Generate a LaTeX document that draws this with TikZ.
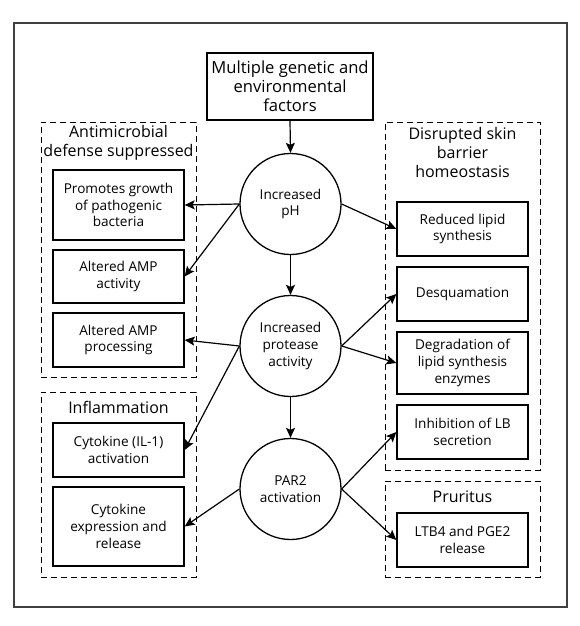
\documentclass[tikz,border=0pt]{standalone}
\usepackage{fontspec}
\setmainfont{Open Sans}
\usetikzlibrary{arrows.meta}
\begin{document}
\begin{tikzpicture}[x=1pt,y=-1pt,
  box/.style={draw, line width=1.3pt, inner sep=0pt, align=center, font=\fontsize{13.6}{16.7}\selectfont},
  lbox/.style={box, minimum width=131pt},
  circ/.style={draw, circle, line width=1.3pt, minimum size=101pt, inner sep=0pt, align=center, font=\fontsize{13.6}{16.7}\selectfont},
  grp/.style={draw, line width=1pt, dash pattern=on 6pt off 4pt, inner sep=0pt},
  title/.style={align=center, inner sep=0pt, font=\fontsize{16}{19}\selectfont},
  arr/.style={line width=1.2pt, -{Stealth[length=10pt,width=9pt,inset=2pt]}}]
\useasboundingbox (0,0) rectangle (580,626);
\node[draw=black!75, line width=1.1pt, minimum width=553pt, minimum height=584pt, inner sep=0pt] (frame) at (290.5,315) {};
% groups
\node[grp, minimum width=155pt, minimum height=255pt] (g1) at (118.5,249.5) {};
\node[grp, minimum width=155pt, minimum height=185pt] (g2) at (118.5,484.5) {};
\node[grp, minimum width=155pt, minimum height=348pt] (g3) at (462.5,296) {};
\node[grp, minimum width=155pt, minimum height=96pt] (g4) at (462.5,529) {};
\node[title] (t1) at (118.5,143) {Antimicrobial\\defense suppressed};
\node[title] (t2) at (118.5,407) {Inflammation};
\node[title] (t3) at (462.5,152) {Disrupted skin\\barrier\\homeostasis};
\node[title] (t4) at (462.5,497) {Pruritus};
% top
\node[box, minimum width=166pt, minimum height=67pt, font=\fontsize{16.6}{19}\selectfont] (top) at (290,86.5) {Multiple genetic and\\environmental\\factors};
% circles
\node[circ] (ph) at (290.5,204) {Increased\\pH};
\node[circ] (pr) at (290.5,346) {Increased\\protease\\activity};
\node[circ] (par) at (290.5,489) {PAR2\\activation};
% left boxes
\node[lbox, minimum height=70pt] (pg) at (118.5,205) {Promotes growth\\of pathogenic\\bacteria};
\node[lbox, minimum height=53pt] (amp) at (118.5,276.5) {Altered AMP\\activity};
\node[lbox, minimum height=54pt] (proc) at (118.5,340) {Altered AMP\\processing};
\node[lbox, minimum height=54pt] (il) at (118.5,450) {Cytokine (IL-1)\\activation};
\node[lbox, minimum height=79pt] (cyt) at (118.5,526.5) {Cytokine\\expression and\\release};
% right boxes
\node[lbox, minimum height=54pt] (red) at (462.5,229) {Reduced lipid\\synthesis};
\node[lbox, minimum height=54pt] (desq) at (462.5,294) {Desquamation};
\node[lbox, minimum height=62pt] (deg) at (462.5,363) {Degradation of\\lipid synthesis\\enzymes};
\node[lbox, minimum height=54pt] (inh) at (462.5,432) {Inhibition of LB\\secretion};
\node[lbox, minimum height=54pt] (ltb) at (462.5,540) {LTB4 and PGE2\\release};
% arrows
\draw[arr] (top.south) -- (ph.north);
\draw[arr] (ph.south) -- (pr.north);
\draw[arr] (pr.south) -- (par.north);
\draw[arr] (ph.west) -- (pg.east);
\draw[arr] (ph.west) -- (amp.east);
\draw[arr] (pr.west) -- (proc.east);
\draw[arr] (pr.west) -- (il.east);
\draw[arr] (par.west) -- (cyt.east);
\draw[arr] (ph.east) -- (red.west);
\draw[arr] (pr.east) -- (desq.west);
\draw[arr] (pr.east) -- (deg.west);
\draw[arr] (par.east) -- (inh.west);
\draw[arr] (par.east) -- (ltb.west);
\end{tikzpicture}
\end{document}
